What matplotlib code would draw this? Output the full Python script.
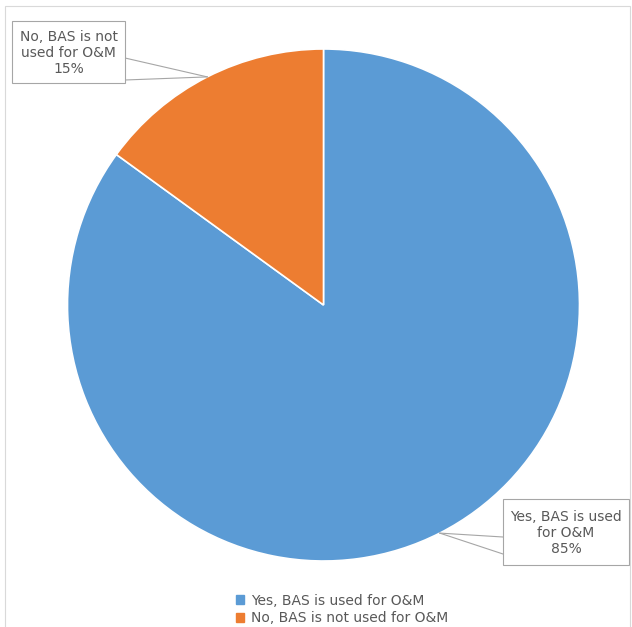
import numpy as np
import matplotlib
matplotlib.use('Agg')
import matplotlib.pyplot as plt
from matplotlib.patches import Rectangle, Patch

# data
labels = ['Yes, BAS is used for O&M', 'No, BAS is not used for O&M']
box_text = ['Yes, BAS is used\nfor O&M', 'No, BAS is not\nused for O&M']
values = [85, 15]
colors = ['#5B9BD5', '#ED7D31']

W, H = 632, 627
fig = plt.figure(figsize=(W / 100, H / 100), dpi=100)
ax = fig.add_axes([0, 0, 1, 1])

plt.rcParams['font.family'] = ['DejaVu Sans']
txt_col = '#595959'

cx, cy, r = 323.5, H - 305, 256
wedges, _ = ax.pie(values, colors=colors, startangle=90, counterclock=False,
                   center=(cx, cy), radius=r, frame=True,
                   wedgeprops=dict(edgecolor='white', linewidth=1.2))
ax.set_xlim(0, W)
ax.set_ylim(0, H)
ax.set_aspect('equal')
ax.axis('off')

# faint chart border (bottom edge runs off the picture)
ax.add_patch(Rectangle((5, -10), 625, H + 4, fill=False, ec='#d9d9d9', lw=0.8))

# data label boxes with callout leaders
# (box left, box top, box right, box bottom) in pixels from top-left
boxes = [(503, 499, 629, 565), (12, 21, 125, 83)]
for i, w in enumerate(wedges):
    ang = np.deg2rad((w.theta1 + w.theta2) / 2)
    px, py = cx + r * np.cos(ang), cy + r * np.sin(ang)
    x0, y0, x1, y1 = boxes[i]
    ax.add_patch(Rectangle((x0, H - y1), x1 - x0, y1 - y0, fc='white',
                           ec='#a6a6a6', lw=0.8, zorder=3))
    ex = x1 if px > x1 else x0
    if i == 1:
        ys = [y0 + 37, y1 - 3]
    else:
        ys = [y0 + 38, y0 + 55]
    for yy in ys:
        ax.plot([px, ex], [py, H - yy], color='#a6a6a6', lw=0.8, zorder=2)
    pct = f'{values[i]}%'
    ax.text((x0 + x1) / 2, H - (y0 + y1) / 2 - 1, box_text[i] + '\n' + pct,
            ha='center', va='center', fontsize=10, color=txt_col,
            linespacing=1.15, zorder=4)

# legend
handles = [Patch(color=c) for c in colors]
ax.legend(handles, labels, loc='upper left',
          bbox_to_anchor=(230 / W, 1 - 588 / H), frameon=False,
          fontsize=10, labelcolor=txt_col, handlelength=0.6,
          handleheight=0.6, handletextpad=0.5, labelspacing=0.25,
          borderaxespad=0)

fig.savefig('out.png', dpi=100, facecolor='white')
